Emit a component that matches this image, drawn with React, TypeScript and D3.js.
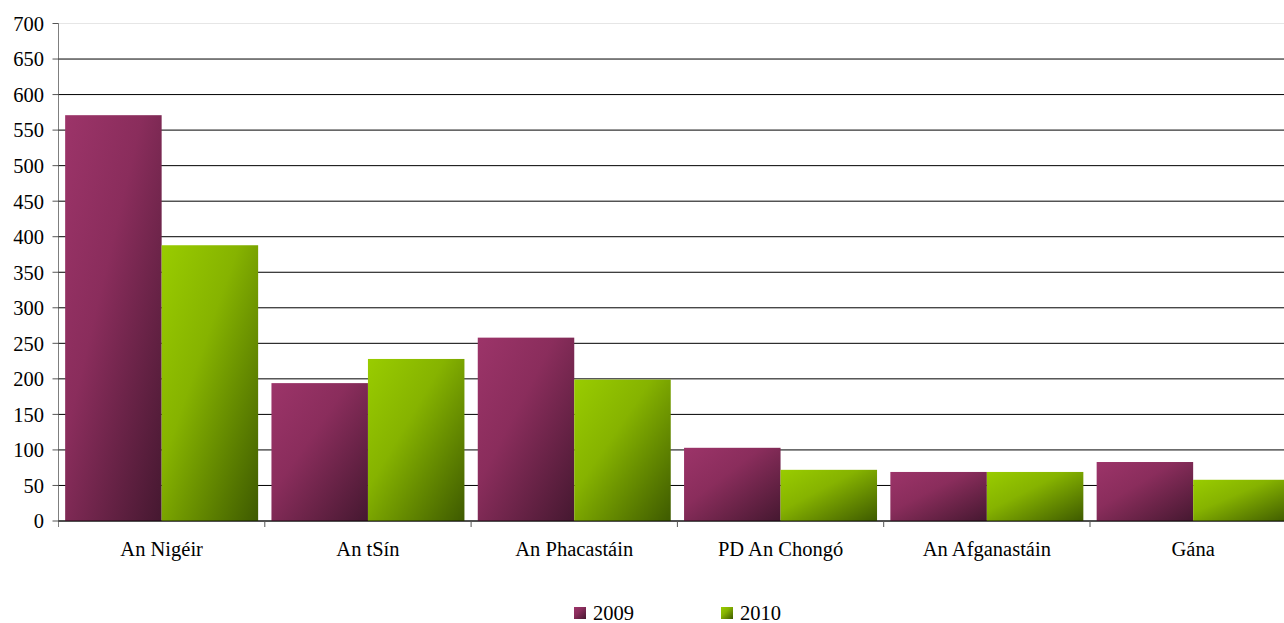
import React from "react";
import * as d3 from "d3";

const categories = ["An Nigéir", "An tSín", "An Phacastáin", "PD An Chongó", "An Afganastáin", "Gána"];
const seriesNames = ["2009", "2010"];
const values2009 = [571, 194, 258, 103, 69, 83];
const values2010 = [388, 228, 199, 72, 69, 58];
const yTicks = [0, 50, 100, 150, 200, 250, 300, 350, 400, 450, 500, 550, 600, 650, 700];

const W = 1284;
const H = 623;
const left = 58.5;
const catW = 206.3;
const top = 23.5;
const bottom = 521;

export default function App() {
  const x0 = d3
    .scaleBand<string>()
    .domain(categories)
    .range([left, left + catW * categories.length])
    .paddingInner(0)
    .paddingOuter(0);
  const x1 = d3.scaleBand<string>().domain(seriesNames).range([0, catW]).paddingOuter(0.069).paddingInner(0);
  const y = d3.scaleLinear().domain([0, 700]).range([bottom, top]);
  const series = [values2009, values2010];
  const fills = ["url(#g2009)", "url(#g2010)"];
  const font = "'Liberation Serif', 'Times New Roman', serif";

  return (
    <div style={{ position: "absolute", left: 0, top: 0 }}>
      <svg width={W} height={H} style={{ display: "block" }} fontFamily={font}>
        <defs>
          <linearGradient id="g2009" x1="0" y1="0" x2="1" y2="1">
            <stop offset="0" stopColor="#9c3469" />
            <stop offset="0.4" stopColor="#8a2d5c" />
            <stop offset="1" stopColor="#451830" />
          </linearGradient>
          <linearGradient id="g2010" x1="0" y1="0" x2="1" y2="1">
            <stop offset="0" stopColor="#99cc00" />
            <stop offset="0.4" stopColor="#86b300" />
            <stop offset="1" stopColor="#3e5a00" />
          </linearGradient>
        </defs>
        <rect width={W} height={H} fill="#fff" />
        {yTicks.map((t) => (
          <line
            key={"g" + t}
            x1={left}
            x2={W}
            y1={y(t)}
            y2={y(t)}
            stroke={t === 700 ? "#e6e6e6" : "#000"}
            strokeWidth={1}
          />
        ))}
        {categories.map((c, i) =>
          series.map((vals, s) => (
            <rect
              key={c + s}
              x={(x0(c) as number) + (x1(seriesNames[s]) as number)}
              y={y(vals[i])}
              width={x1.bandwidth()}
              height={bottom - y(vals[i])}
              fill={fills[s]}
            />
          ))
        )}
        <line x1={left} x2={W} y1={bottom} y2={bottom} stroke="#000" strokeOpacity={0.5} strokeWidth={1.5} />
        <line x1={left} x2={left} y1={top} y2={bottom + 6} stroke="#000" strokeOpacity={0.5} strokeWidth={1} />
        {yTicks.map((t) => (
          <g key={"t" + t}>
            <line x1={left - 6} x2={left} y1={y(t)} y2={y(t)} stroke="#555" />
            <text x={44} y={y(t)} dy="0.36em" textAnchor="end" fontSize={20.5} fill="#000">
              {t}
            </text>
          </g>
        ))}
        {categories.map((c, i) => (
          <g key={"c" + c}>
            {i > 0 && (
              <line
                x1={x0(c) as number}
                x2={x0(c) as number}
                y1={bottom}
                y2={bottom + 6}
                stroke="#555"
              />
            )}
            <text x={(x0(c) as number) + catW / 2} y={556} textAnchor="middle" fontSize={20.5} fill="#000">
              {c}
            </text>
          </g>
        ))}
        {seriesNames.map((n, s) => (
          <g key={"l" + n} transform={`translate(${574 + s * 147},607)`}>
            <rect x={0} y={0} width={12} height={12} fill={fills[s]} />
            <text x={19} y={13} fontSize={20.5} fill="#000">
              {n}
            </text>
          </g>
        ))}
      </svg>
    </div>
  );
}
